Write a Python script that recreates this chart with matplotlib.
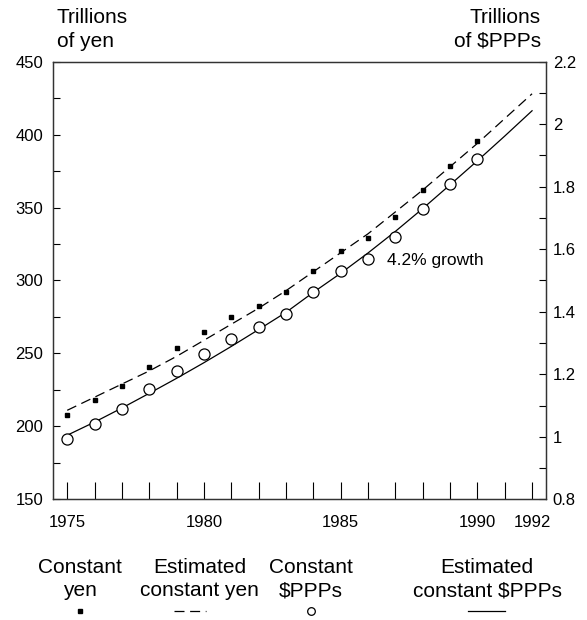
import numpy as np
import matplotlib.pyplot as plt
from matplotlib.lines import Line2D

plt.rcParams['font.family'] = ['Liberation Sans', 'DejaVu Sans']

# ====== Data ======
years = list(range(1975, 1991))
const_yen = [207.8, 217.9, 227.9, 240.9, 253.5, 264.9, 275.2, 282.5,
             291.9, 306.5, 320.4, 328.8, 343.5, 362.0, 378.5, 395.8]
const_ppp = [0.993, 1.040, 1.089, 1.152, 1.210, 1.265, 1.314, 1.351,
             1.393, 1.463, 1.530, 1.569, 1.639, 1.729, 1.808, 1.890]

est_years = list(range(1975, 1993))
est_yen = [211, 220, 229, 238, 248, 259, 270, 281, 293,
           306, 319, 332, 347, 362, 378, 394, 411, 428]
est_ppp = [1.005, 1.047, 1.092, 1.139, 1.187, 1.237, 1.289, 1.343, 1.398,
           1.462, 1.523, 1.588, 1.657, 1.730, 1.806, 1.883, 1.962, 2.043]

xtick_labels = {1975: "1975", 1980: "1980", 1985: "1985", 1990: "1990", 1992: "1992"}
legend_labels = ["Constant\nyen", "Estimated\nconstant yen",
                 "Constant\n$PPPs", "Estimated\nconstant $PPPs"]

# ====== Plot ======
fig = plt.figure(figsize=(5.87, 6.2), dpi=100)
ax = fig.add_axes([0.0903, 0.1947, 0.8394, 0.7058])
ax2 = ax.twinx()

dash = (0, (8, 4.5))
ax.plot(est_years, est_yen, color="black", lw=0.9, linestyle=dash)
ax.plot(years, const_yen, linestyle="none", marker="s", ms=3.5, color="black")
ax2.plot(est_years, est_ppp, color="black", lw=0.9)
ax2.plot(years, const_ppp, linestyle="none", marker="o", ms=8,
         markerfacecolor="white", markeredgecolor="black", markeredgewidth=0.9)

ax.set_xlim(1974.48, 1992.5)
ax.set_ylim(150, 450)
ax2.set_ylim(0.8, 2.2)

ax.set_xticks(est_years)
ax.set_xticklabels([xtick_labels.get(y, "") for y in est_years])
ax.set_yticks(np.arange(150, 451, 50))
ax.set_yticks(np.arange(175, 451, 50), minor=True)
ax2.set_yticks(np.round(np.arange(0.8, 2.21, 0.2), 1))
ax2.set_yticklabels(["0.8", "1", "1.2", "1.4", "1.6", "1.8", "2", "2.2"])
ax2.set_yticks(np.round(np.arange(0.9, 2.2, 0.2), 1), minor=True)

ax.tick_params(axis="x", direction="in", length=12.5, width=0.8, pad=11, labelsize=12)
ax.tick_params(axis="y", which="both", direction="in", length=5, width=0.8, pad=7, labelsize=12)
ax2.tick_params(axis="y", which="both", direction="in", length=5, width=0.8, pad=5, labelsize=12)
ax.tick_params(top=False)

for a in (ax, ax2):
    for s in a.spines.values():
        s.set_linewidth(0.9)
        s.set_color("#333333")

ax.text(1986.71, 313.4, "4.2% growth", fontsize=12.5, ha="left", va="center")

fig.text(0.097, 0.987, "Trillions\nof yen", fontsize=15, ha="left", va="top", linespacing=1.3)
fig.text(0.9216, 0.987, "Trillions\nof $PPPs", fontsize=15, ha="right", va="top", linespacing=1.3)

# legend row at the bottom
centers = [0.136, 0.34, 0.53, 0.83]
for cx, lab in zip(centers, legend_labels):
    fig.text(cx, 0.066, lab, fontsize=15, ha="center", va="center", linespacing=1.3)

sy = 0.0145
fig.add_artist(Line2D([centers[0]], [sy], marker="s", ms=3, color="black",
                      linestyle="none", transform=fig.transFigure))
fig.add_artist(Line2D([0.297, 0.351], [sy, sy], color="black",
                      lw=0.9, linestyle=dash, transform=fig.transFigure))
fig.add_artist(Line2D([centers[2]], [sy], marker="o", ms=5.5, markerfacecolor="white",
                      markeredgecolor="black", markeredgewidth=0.9,
                      linestyle="none", transform=fig.transFigure))
fig.add_artist(Line2D([0.797, 0.86], [sy, sy], color="black",
                      lw=0.9, transform=fig.transFigure))

plt.savefig("out.png", dpi=100)
plt.close()
